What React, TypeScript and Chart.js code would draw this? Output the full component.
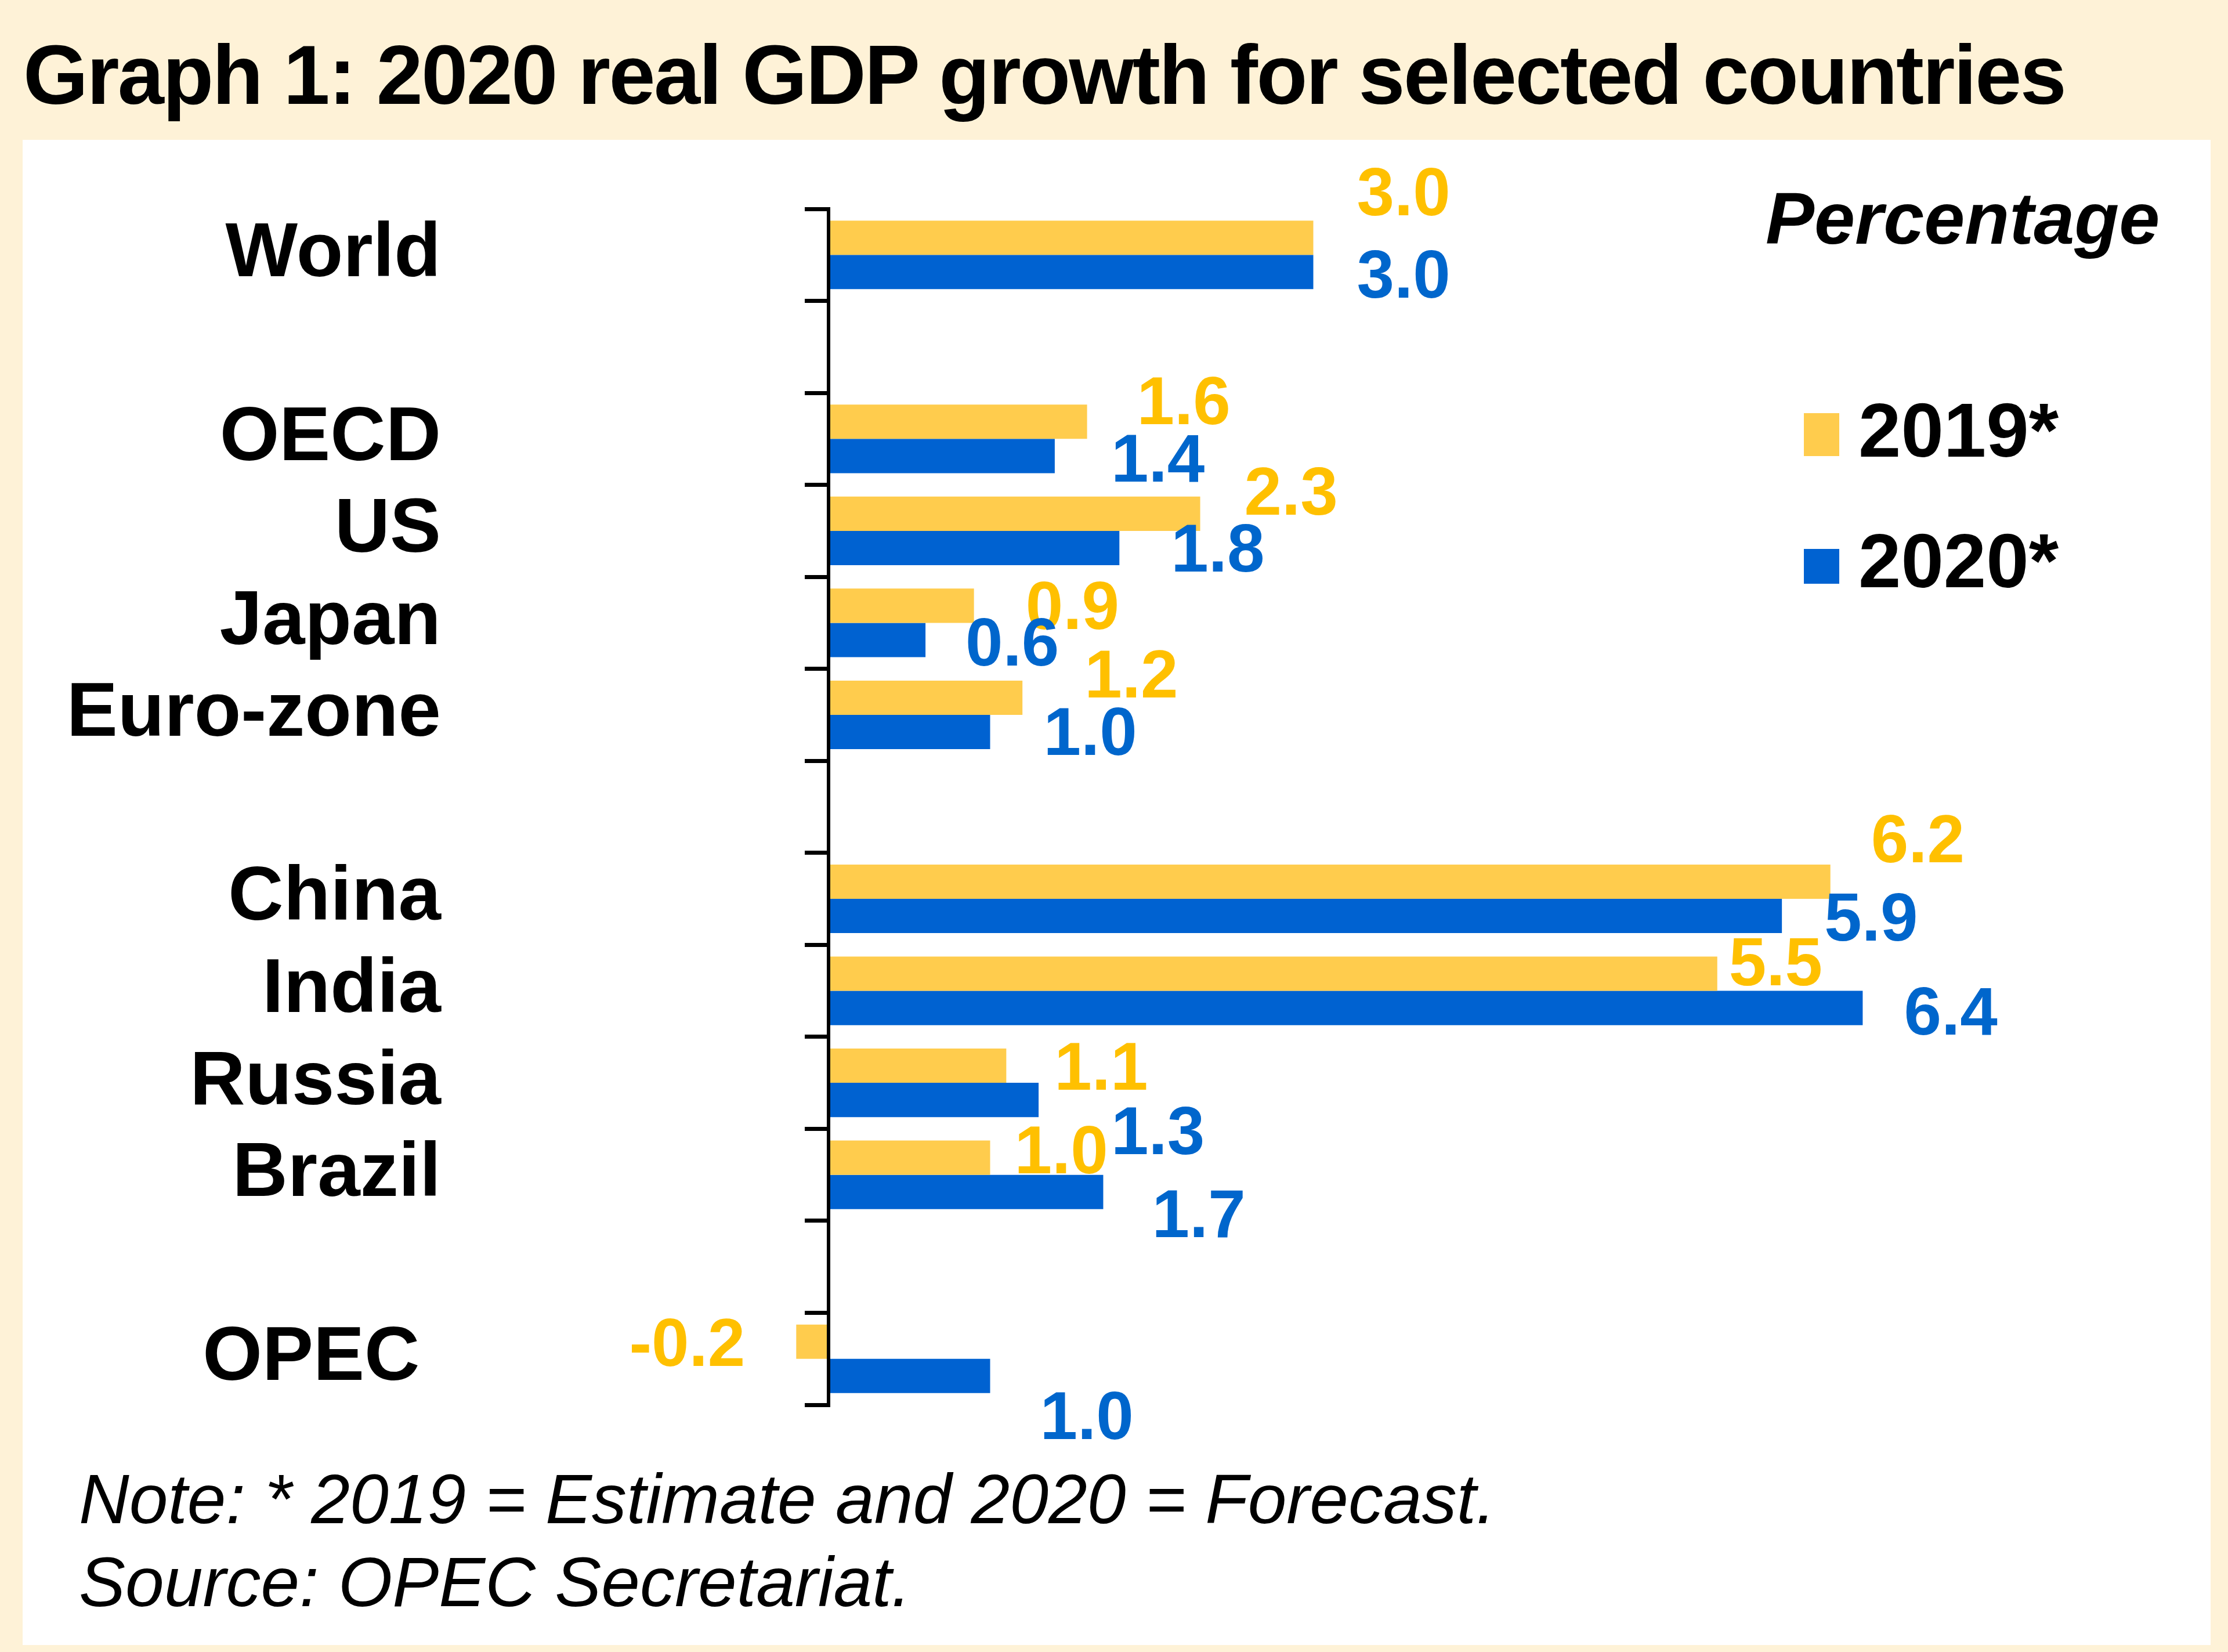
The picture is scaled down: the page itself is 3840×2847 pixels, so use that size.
import React, { useEffect, useRef } from "react";
import { Chart, registerables } from "chart.js";

Chart.register(...registerables);

// ---------- data ----------
const categories = ["World", "", "OECD", "US", "Japan", "Euro-zone", "", "China", "India", "Russia", "Brazil", "", "OPEC "];
const values2019 = [3.0, null, 1.6, 2.3, 0.9, 1.2, null, 6.2, 5.5, 1.1, 1.0, null, -0.2];
const values2020 = [3.0, null, 1.4, 1.8, 0.6, 1.0, null, 5.9, 6.4, 1.3, 1.7, null, 1.0];
const seriesNames = ["2019*", "2020*"];

// ---------- styles ----------
const FONT = "'Liberation Sans', Arial, Helvetica, sans-serif";
const barColors = ["#FFCC4D", "#0062D1"];
const valueLabelColors = ["#FFC000", "#0066CC"];
const CREAM = "#FEF2D7";

// label nudges (px) relative to default spot next to each bar end
const labelNudge2019 = [[0, -80], [0, 0], [11, -37], [1, -40], [14, -1], [32, -42], [0, 0], [-5, -75], [-55, -22], [8, 0], [-33, -15], [0, 0], [-13, 0]];
const labelNudge2020 = [[0, 3], [0, 0], [22, 3], [14, -1], [-6, 3], [17, -2], [0, 0], [-2, 1], [-4, 4], [50, 52], [9, 36], [0, 0], [11, 67]];
const labelNudges = [labelNudge2019, labelNudge2020];

const W = 3840;
const H = 2847;
const X_MIN = -0.5;
const X_MAX = 7.5;
const PLOT_TOP = 360;
const PLOT_BOTTOM = 2421;
const ZERO_PX = 1428;
const PX_PER_UNIT = 278.5;
const PLOT_LEFT = ZERO_PX + X_MIN * PX_PER_UNIT;
const PLOT_RIGHT = ZERO_PX + X_MAX * PX_PER_UNIT;
const CAT_LABEL_RIGHT = 760;
const VALUE_FONT_SIZE = 116;
const VALUE_GAP = 75;

const valueLabelPlugin = {
  id: "valueLabels",
  afterDatasetsDraw(chart: any) {
    const ctx = chart.ctx;
    ctx.save();
    ctx.font = `bold ${VALUE_FONT_SIZE}px ${FONT}`;
    ctx.textBaseline = "alphabetic";
    chart.data.datasets.forEach((ds: any, di: number) => {
      const meta = chart.getDatasetMeta(di);
      meta.data.forEach((bar: any, i: number) => {
        const v = ds.data[i];
        if (v === null || v === undefined) return;
        const [dx, dy] = labelNudges[di][i];
        const neg = v < 0;
        const x = bar.x + (neg ? -VALUE_GAP : VALUE_GAP) + dx;
        const y = bar.y + dy + VALUE_FONT_SIZE * 0.716 / 2;
        ctx.textAlign = neg ? "right" : "left";
        ctx.fillStyle = valueLabelColors[di];
        ctx.fillText(v.toFixed(1), x, y);
      });
    });
    ctx.restore();
  },
};

function textDiv(
  text: string,
  left: number,
  baseline: number,
  size: number,
  weight: string,
  style: string,
  extra: React.CSSProperties = {}
) {
  const top = baseline - 0.8465 * size;
  return (
    <div
      style={{
        position: "absolute",
        left,
        top,
        fontFamily: FONT,
        fontSize: size,
        lineHeight: `${size}px`,
        fontWeight: weight as any,
        fontStyle: style,
        color: "#000",
        whiteSpace: "nowrap",
        ...extra,
      }}
    >
      {text}
    </div>
  );
}

export default function App() {
  const canvasRef = useRef<HTMLCanvasElement | null>(null);

  useEffect(() => {
    if (!canvasRef.current) return;
    const chart = new Chart(canvasRef.current, {
      type: "bar",
      data: {
        labels: categories,
        datasets: [
          {
            label: seriesNames[0],
            data: values2019 as any,
            backgroundColor: barColors[0],
            borderWidth: 0,
            categoryPercentage: 0.745,
            barPercentage: 1.0,
          },
          {
            label: seriesNames[1],
            data: values2020 as any,
            backgroundColor: barColors[1],
            borderWidth: 0,
            categoryPercentage: 0.745,
            barPercentage: 1.0,
          },
        ],
      },
      options: {
        indexAxis: "y",
        responsive: false,
        animation: false,
        devicePixelRatio: 1,
        events: [],
        layout: {
          padding: { left: 0, top: PLOT_TOP, right: W - PLOT_RIGHT, bottom: H - PLOT_BOTTOM },
        },
        plugins: {
          legend: { display: false },
          title: { display: false },
          tooltip: { enabled: false },
        },
        scales: {
          x: {
            type: "linear",
            min: X_MIN,
            max: X_MAX,
            display: false,
          },
          y: {
            type: "category",
            position: "left",
            offset: true,
            grid: {
              display: true,
              drawOnChartArea: false,
              drawTicks: true,
              tickLength: PLOT_LEFT - CAT_LABEL_RIGHT,
              offset: true,
              color: "rgba(0,0,0,0)",
              tickColor: "rgba(0,0,0,0)",
            },
            border: { display: false },
            ticks: {
              color: "#000",
              autoSkip: false,
              padding: 0,
              font: { family: FONT, size: 132, weight: "bold" },
            },
            afterFit: (scale: any) => {
              scale.width = PLOT_LEFT;
            },
          },
          yZero: {
            type: "category",
            axis: "y",
            position: { x: 0 },
            offset: true,
            grid: {
              display: true,
              offset: true,
              drawOnChartArea: false,
              drawTicks: true,
              tickLength: 38,
              tickWidth: 7,
              lineWidth: 7,
              color: "#000",
              tickColor: "#000",
              z: 1,
            },
            border: { display: true, color: "#000", width: 6, z: 1 },
            ticks: { display: false, padding: 0 },
          },
        } as any,
      },
      plugins: [valueLabelPlugin],
    });
    return () => chart.destroy();
  }, []);

  return (
    <div
      style={{
        position: "absolute",
        left: 0,
        top: 0,
        width: W,
        height: H,
        background: CREAM,
        overflow: "hidden",
      }}
    >
      <div
        style={{
          position: "absolute",
          left: 39,
          top: 241,
          width: 3810 - 39,
          height: 2835 - 241,
          background: "#FFFFFF",
        }}
      />
      {textDiv("Graph 1: 2020 real GDP growth for selected countries", 40, 180, 144, "bold", "normal", { letterSpacing: "-2.6px" })}
      <canvas
        ref={canvasRef}
        width={W}
        height={H}
        style={{ position: "absolute", left: 0, top: 0, width: W, height: H }}
      />
      {textDiv("Percentage", 3043, 421, 126, "bold", "italic")}
      <div style={{ position: "absolute", left: 3109, top: 712, width: 61, height: 74, background: barColors[0] }} />
      <div style={{ position: "absolute", left: 3109, top: 946, width: 61, height: 60, background: barColors[1] }} />
      {textDiv(seriesNames[0], 3203, 788, 132, "bold", "normal")}
      {textDiv(seriesNames[1], 3203, 1013, 132, "bold", "normal")}
      {textDiv("Note: * 2019 = Estimate and 2020 = Forecast.", 136, 2625, 120, "normal", "italic")}
      {textDiv("Source: OPEC Secretariat.", 136, 2768, 120, "normal", "italic")}
    </div>
  );
}
